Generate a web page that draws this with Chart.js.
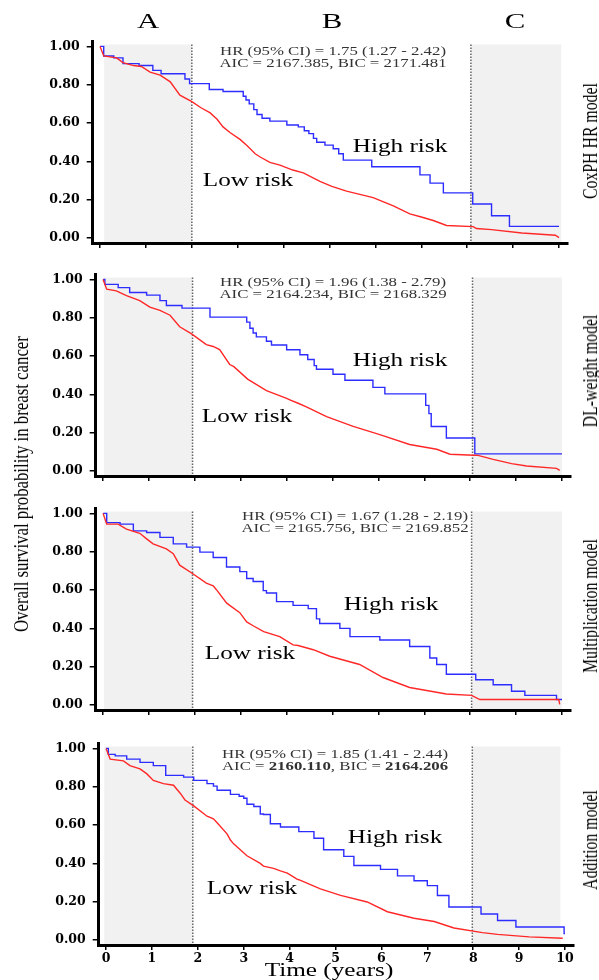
<!DOCTYPE html>
<html>
<head>
<meta charset="utf-8">
<script src="https://cdn.jsdelivr.net/npm/chart.js@4.4.0/dist/chart.umd.min.js"></script>
<style>
  html, body { margin: 0; padding: 0; background: #fff; overflow: hidden; }
  #lienzo { position: relative; width: 599px; height: 980px; overflow: hidden; font-family: "Liberation Serif", "Times New Roman", serif; }
  #lienzo canvas { position: absolute; }
  .txt { position: absolute; white-space: nowrap; color: #000; line-height: 1; transform: translate(-50%, -50%) scaleX(1.4); }
  .rot { position: absolute; white-space: nowrap; color: #000; line-height: 1; transform: translate(-50%, -50%) rotate(-90deg) scaleY(1.35); }
  .hr { font-size: 12px; color: #333; text-align: center; }
  .riesgo { font-size: 18px; }
</style>
</head>
<body>
<div id="lienzo"></div>
<script>
// --- DATOS ---
var xTicks = [0, 1, 2, 3, 4, 5, 6, 7, 8, 9, 10];
var yTicks = [0, 0.2, 0.4, 0.6, 0.8, 1.0];
var modelos = ['CoxPH HR model', 'DL-weight model', 'Multiplication model', 'Addition model'];
var zonasTexto = ['A', 'B', 'C'];
var hrTexto = [
    'HR (95% CI) = 1.75 (1.27 - 2.42)',
    'HR (95% CI) = 1.96 (1.38 - 2.79)',
    'HR (95% CI) = 1.67 (1.28 - 2.19)',
    'HR (95% CI) = 1.85 (1.41 - 2.44)'
];
var aicTexto = [
    'AIC = 2167.385, BIC = 2171.481',
    'AIC = 2164.234, BIC = 2168.329',
    'AIC = 2165.756, BIC = 2169.852',
    'AIC = <b>2160.110</b>, BIC = <b>2164.206</b>'
];

// curvas [tiempo, supervivencia]
var coxBajo = [[0,1],[0.08,0.95],[0.36,0.94],[0.5,0.915],[0.73,0.9],[0.9,0.895],[1.09,0.866],[1.31,0.85],[1.53,0.815],[1.74,0.746],[2.0,0.712],[2.2,0.68],[2.4,0.653],[2.55,0.62],[2.68,0.58],[2.83,0.551],[3.05,0.515],[3.2,0.483],[3.38,0.44],[3.49,0.423],[3.7,0.395],[3.92,0.381],[4.2,0.355],[4.43,0.34],[4.79,0.296],[5.05,0.27],[5.37,0.245],[5.95,0.211],[6.39,0.168],[6.75,0.126],[7.0,0.11],[7.26,0.092],[7.55,0.066],[8.13,0.06],[8.2,0.05],[8.53,0.044],[9.19,0.027],[9.92,0.015],[10,0.003]];
var coxAlto = [[0,1],[0.08,0.95],[0.3,0.94],[0.5,0.91],[0.85,0.9],[1.15,0.875],[1.33,0.857],[1.85,0.83],[1.95,0.806],[2.38,0.775],[2.68,0.765],[3.12,0.74],[3.18,0.72],[3.25,0.7],[3.35,0.67],[3.42,0.645],[3.53,0.625],[3.7,0.61],[4.07,0.59],[4.32,0.58],[4.45,0.56],[4.55,0.545],[4.65,0.52],[4.72,0.5],[4.9,0.485],[5.08,0.466],[5.2,0.44],[5.3,0.407],[5.92,0.372],[6.97,0.33],[7.19,0.287],[7.48,0.236],[8.12,0.178],[8.53,0.117],[8.92,0.061],[10,0.061]];

var dlBajo = [[0,1],[0.08,0.949],[0.29,0.94],[0.51,0.915],[0.8,0.889],[1.02,0.855],[1.24,0.838],[1.46,0.813],[1.67,0.753],[1.93,0.716],[2.25,0.66],[2.4,0.65],[2.54,0.634],[2.76,0.556],[2.85,0.545],[3.15,0.48],[3.56,0.42],[4.0,0.379],[4.07,0.372],[4.25,0.354],[4.43,0.335],[4.87,0.284],[5.45,0.233],[6.03,0.19],[6.68,0.139],[7.27,0.114],[7.56,0.088],[8.08,0.083],[8.17,0.082],[8.5,0.061],[8.9,0.039],[9.23,0.027],[9.88,0.014],[9.95,0.004]];
var dlAlto = [[0,1],[0.04,0.974],[0.33,0.957],[0.58,0.932],[0.95,0.918],[1.24,0.889],[1.38,0.864],[1.72,0.85],[2.33,0.803],[3.13,0.777],[3.2,0.745],[3.27,0.72],[3.34,0.7],[3.56,0.677],[3.67,0.658],[4.0,0.633],[4.29,0.607],[4.46,0.582],[4.6,0.55],[4.65,0.531],[5.01,0.505],[5.27,0.474],[5.88,0.437],[6.14,0.403],[7.03,0.343],[7.1,0.3],[7.15,0.233],[7.48,0.173],[8.1,0.09],[10,0.09]];

var multBajo = [[0,1],[0.08,0.944],[0.33,0.944],[0.51,0.918],[0.8,0.896],[0.95,0.867],[1.09,0.841],[1.38,0.815],[1.53,0.79],[1.67,0.73],[1.94,0.688],[2.25,0.636],[2.4,0.622],[2.47,0.602],[2.69,0.533],[2.76,0.52],[2.98,0.482],[3.13,0.434],[3.27,0.414],[3.5,0.383],[3.85,0.357],[4.14,0.314],[4.25,0.311],[4.58,0.289],[4.94,0.255],[5.59,0.212],[6.1,0.144],[6.68,0.092],[7.48,0.058],[8.03,0.051],[8.21,0.029],[9.93,0.029],[9.95,0.004]];
var multAlto = [[0,1],[0.08,0.952],[0.37,0.944],[0.66,0.909],[0.95,0.9],[1.24,0.875],[1.53,0.841],[1.82,0.824],[2.11,0.798],[2.4,0.77],[2.69,0.72],[2.98,0.696],[3.13,0.66],[3.27,0.645],[3.49,0.597],[3.56,0.585],[3.78,0.54],[4.14,0.52],[4.47,0.503],[4.65,0.45],[4.72,0.426],[5.16,0.4],[5.38,0.357],[6.03,0.34],[6.68,0.306],[7.12,0.246],[7.27,0.212],[7.48,0.161],[8.12,0.132],[8.5,0.106],[8.9,0.072],[9.19,0.051],[9.88,0.029],[10,0.029]];

var sumaBajo = [[0,1],[0.09,0.944],[0.38,0.935],[0.52,0.91],[0.74,0.893],[0.89,0.867],[1.03,0.833],[1.25,0.816],[1.47,0.808],[1.62,0.765],[1.72,0.731],[1.91,0.7],[2.2,0.646],[2.34,0.633],[2.42,0.612],[2.64,0.553],[2.71,0.522],[2.78,0.502],[3.07,0.44],[3.36,0.4],[3.43,0.386],[3.65,0.374],[3.8,0.361],[3.95,0.349],[4.16,0.318],[4.2,0.315],[4.67,0.267],[5.11,0.233],[5.69,0.199],[6.13,0.148],[6.71,0.114],[7.15,0.097],[7.58,0.063],[8.2,0.039],[8.53,0.03],[9.22,0.017],[9.95,0.01]];
var sumaAlto = [[0,1],[0.05,0.969],[0.2,0.961],[0.45,0.944],[0.74,0.927],[1.03,0.91],[1.3,0.859],[1.69,0.85],[1.91,0.833],[2.2,0.816],[2.34,0.803],[2.42,0.782],[2.71,0.76],[2.9,0.75],[3.0,0.74],[3.07,0.709],[3.22,0.697],[3.36,0.658],[3.43,0.655],[3.58,0.607],[3.8,0.59],[4.2,0.566],[4.53,0.531],[4.74,0.471],[5.18,0.437],[5.4,0.389],[5.98,0.369],[6.35,0.335],[6.71,0.31],[7.0,0.284],[7.22,0.233],[7.47,0.173],[8.17,0.136],[8.53,0.102],[8.93,0.068],[9.98,0.034],[10,0.034]];

var curvasBajo = [coxBajo, dlBajo, multBajo, sumaBajo];
var curvasAlto = [coxAlto, dlAlto, multAlto, sumaAlto];

// --- DISPOSICION (pixeles) ---
var panelY1 = [42, 275, 509, 744];       // y de 1.00
var panelDx = [0, 3, 3, 6];              // desplazamiento horizontal
var zonaIni = [0.09, 0.02, 0.02, -0.04];
var corteA = [2.0, 1.95, 1.95, 1.89];
var corteC = [8.08, 8.05, 8.03, 7.98];
var zonaFin = [10.05, 10.0, 10.0, 9.9];
var hrPos = [[333, 51], [333, 282], [355, 516], [335, 754]];
var altoPos = [[400, 146], [400, 360], [391, 604], [395, 837]];
var bajoPos = [[248, 180], [247, 416], [250, 653], [252, 888]];
var modeloY = [141, 371, 606, 840];

var lienzo = document.getElementById('lienzo');

function texto(html, cls, x, y, estilo) {
    var d = document.createElement('div');
    d.className = cls;
    d.innerHTML = html;
    d.style.left = x + 'px';
    d.style.top = y + 'px';
    if (estilo) d.style.cssText += estilo;
    lienzo.appendChild(d);
    return d;
}

// zonas grises y lineas punteadas
var zonasPlugin = {
    id: 'zonas',
    beforeDraw: function (chart, args, o) {
        var ctx = chart.ctx, a = chart.chartArea, x = chart.scales.x;
        var top = a.top + 3, bot = a.bottom;
        ctx.save();
        ctx.fillStyle = '#f1f1f1';
        var p0 = x.getPixelForValue(o.ini), pA = x.getPixelForValue(o.a);
        var pC = x.getPixelForValue(o.c), p1 = x.getPixelForValue(o.fin);
        ctx.fillRect(p0, top, pA - p0, bot - top);
        ctx.fillRect(pC, top, p1 - pC, bot - top);
        ctx.strokeStyle = '#666';
        ctx.lineWidth = 1.5;
        ctx.setLineDash([1.5, 1.5]);
        [pA, pC].forEach(function (p) {
            ctx.beginPath();
            ctx.moveTo(p, top);
            ctx.lineTo(p, bot + 2);
            ctx.stroke();
        });
        ctx.restore();
    }
};

var fuenteTick = { family: '"DejaVu Serif", serif', size: 12.5, weight: 'bold' };

function crearPanel(i) {
    var alto = 196 + 45;
    var cv = document.createElement('canvas');
    cv.width = 599;
    cv.height = alto;
    cv.style.left = panelDx[i] + 'px';
    cv.style.top = (panelY1[i] - 15) + 'px';
    cv.style.width = '599px';
    cv.style.height = alto + 'px';
    lienzo.appendChild(cv);

    var ultimo = (i === 3);

    new Chart(cv, {
        type: 'line',
        data: {
            datasets: [{
                data: curvasBajo[i].map(function (p) { return { x: p[0], y: p[1] }; }),
                borderColor: '#ff2828',
                borderWidth: 1.4,
                pointRadius: 0,
                tension: 0
            }, {
                data: curvasAlto[i].map(function (p) { return { x: p[0], y: p[1] }; }),
                borderColor: '#2d2dff',
                borderWidth: 1.4,
                pointRadius: 0,
                stepped: true
            }]
        },
        options: {
            responsive: false,
            animation: false,
            devicePixelRatio: 1,
            layout: { padding: { top: 10, right: 30.8, left: 0, bottom: 0 } },
            plugins: {
                legend: { display: false },
                tooltip: { enabled: false },
                zonas: { ini: zonaIni[i], a: corteA[i], c: corteC[i], fin: zonaFin[i] }
            },
            scales: {
                x: {
                    type: 'linear',
                    min: -0.16,
                    max: 10.2,
                    afterBuildTicks: function (s) { s.ticks = xTicks.map(function (v) { return { value: v }; }); },
                    afterFit: function (s) { s.height = 25; },
                    border: { display: true, color: '#000', width: 3 },
                    grid: { drawOnChartArea: false, drawTicks: true, tickLength: 5, color: '#000', lineWidth: 1.5 },
                    ticks: {
                        display: ultimo,
                        autoSkip: false,
                        maxRotation: 0,
                        padding: 1,
                        color: '#000',
                        font: fuenteTick
                    }
                },
                y: {
                    min: -0.0255,
                    max: 1.0255,
                    afterBuildTicks: function (s) { s.ticks = yTicks.map(function (v) { return { value: v }; }); },
                    afterFit: function (s) { s.width = 92.7; },
                    border: { display: true, color: '#000', width: 3 },
                    grid: { drawOnChartArea: false, drawTicks: true, tickLength: 6, color: '#000', lineWidth: 1.5 },
                    ticks: {
                        padding: 7,
                        color: '#000',
                        font: fuenteTick,
                        callback: function (v) { return Number(v).toFixed(2); }
                    }
                }
            }
        },
        plugins: [zonasPlugin]
    });

    // textos del panel
    texto(hrTexto[i] + '<br>' + aicTexto[i], 'txt hr', hrPos[i][0], hrPos[i][1] + 6, 'line-height:12px;');
    texto('High risk', 'txt riesgo', altoPos[i][0], altoPos[i][1]);
    texto('Low risk', 'txt riesgo', bajoPos[i][0], bajoPos[i][1]);
    texto(modelos[i], 'rot', 590, modeloY[i], 'font-size:15.8px;');
}

for (var i = 0; i < 4; i++) crearPanel(i);

// titulos generales
var zonaX = [148, 332, 515];
zonasTexto.forEach(function (t, k) {
    texto(t, 'txt', zonaX[k], 21, 'font-size:22px;');
});
texto('Overall survival probability in breast cancer', 'rot', 22, 484, 'font-size:16.8px;transform:translate(-50%,-50%) rotate(-90deg) scaleY(1.25);');
texto('Time (years)', 'txt', 329, 970, 'font-size:18px;');
</script>
</body>
</html>
